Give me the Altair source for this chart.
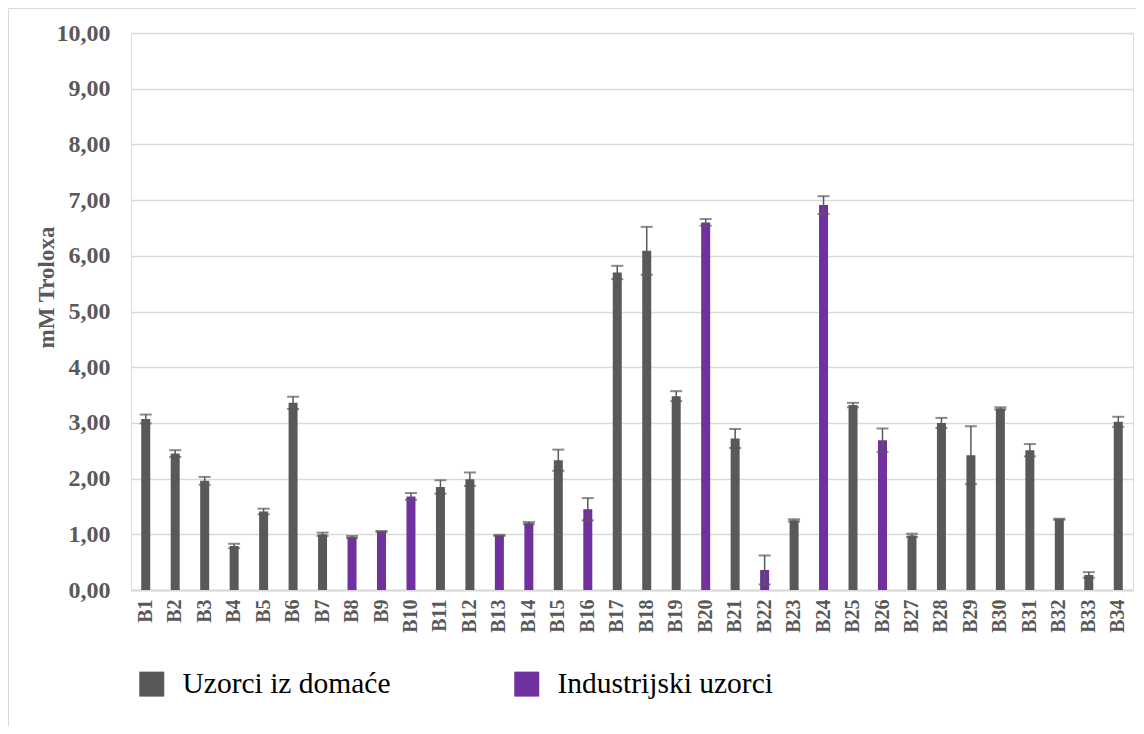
import altair as alt
import pandas as pd

samples = ["B1", "B2", "B3", "B4", "B5", "B6", "B7", "B8", "B9", "B10",
           "B11", "B12", "B13", "B14", "B15", "B16", "B17", "B18", "B19", "B20",
           "B21", "B22", "B23", "B24", "B25", "B26", "B27", "B28", "B29", "B30",
           "B31", "B32", "B33", "B34"]
means = [3.07, 2.45, 1.96, 0.79, 1.41, 3.36, 1.00, 0.95, 1.05, 1.68,
         1.85, 1.99, 0.98, 1.20, 2.33, 1.45, 5.70, 6.09, 3.48, 6.60,
         2.72, 0.36, 1.25, 6.91, 3.32, 2.69, 0.98, 3.00, 2.42, 3.26,
         2.51, 1.27, 0.27, 3.02]
sds = [0.08, 0.06, 0.07, 0.04, 0.05, 0.11, 0.03, 0.02, 0.01, 0.06,
       0.12, 0.12, 0.01, 0.02, 0.19, 0.20, 0.12, 0.43, 0.09, 0.06,
       0.17, 0.26, 0.02, 0.16, 0.04, 0.21, 0.03, 0.09, 0.52, 0.02,
       0.11, 0.01, 0.05, 0.09]
industrial = ["B8", "B9", "B10", "B13", "B14", "B16", "B20", "B22", "B24", "B26"]
groups = ["Uzorci iz domaće", "Industrijski uzorci"]
colors = ["#595959", "#7030A0"]
y_ticks = [0, 1, 2, 3, 4, 5, 6, 7, 8, 9, 10]

df = pd.DataFrame({"sample": samples, "mean": means, "sd": sds})
df["group"] = [groups[1] if s in industrial else groups[0] for s in samples]
df["lo"] = df["mean"] - df["sd"]
df["hi"] = df["mean"] + df["sd"]

FONT = "'Liberation Serif', 'Times New Roman', serif"

x = alt.X("sample:N", sort=samples, title=None,
          scale=alt.Scale(paddingInner=0.0, paddingOuter=0.0),
          axis=alt.Axis(labelAngle=-90, labelFont=FONT, labelFontSize=20,
                        labelFontWeight="bold", labelColor="#595959",
                        labelPadding=9, ticks=False, tickSize=0,
                        domainColor="#d9d9d9", domainWidth=2))

y = alt.Y("mean:Q", title="mM Troloxa",
          scale=alt.Scale(domain=[0, 10], nice=False),
          axis=alt.Axis(values=y_ticks, labelOverlap=False,
                        labelExpr="replace(format(datum.value, '.2f'), '.', ',')",
                        labelFont=FONT, labelFontSize=24, labelFontWeight="bold",
                        labelColor="#595959", labelPadding=21, ticks=False, tickSize=0,
                        domain=False, grid=True, gridColor="#d9d9d9", gridWidth=1.5,
                        titleFont=FONT, titleFontSize=23, titleFontWeight="bold",
                        titleColor="#595959", titleAngle=-90, titleX=-85, titleY=254,
                        titleAlign="center", titleBaseline="middle"))

base = alt.Chart(df)

bars = base.mark_bar(size=9).encode(
    x=x, y=y,
    color=alt.Color("group:N", scale=alt.Scale(domain=groups, range=colors),
                    legend=alt.Legend(title=None, orient="none", legendX=6, legendY=636,
                                      direction="horizontal", columns=2,
                                      symbolType="square", symbolSize=625,
                                      symbolStrokeWidth=0, labelFont=FONT,
                                      labelFontSize=29.5, labelColor="#000000",
                                      labelOffset=16, columnPadding=121,
                                      labelLimit=0)),
)

xs = alt.X("sample:N", sort=samples)
rules = base.mark_rule(color="#595959", strokeWidth=1.5).encode(x=xs, y="lo:Q", y2="hi:Q")
cap_hi = base.mark_tick(color="#595959", size=12, thickness=2, orient="horizontal").encode(
    x=xs, y="hi:Q")
cap_lo = base.mark_tick(color="#595959", size=12, thickness=2, orient="horizontal").encode(
    x=xs, y="lo:Q")

border = alt.Chart(pd.DataFrame({"a": [0]})).mark_rect(
    fillOpacity=0, stroke="#d9d9d9", strokeWidth=1).encode(
    x=alt.value(-122.5), x2=alt.value(1030), y=alt.value(-24.5), y2=alt.value(800))

chart = alt.layer(border, bars, rules, cap_hi, cap_lo).properties(
    width=1002, height=557,
    autosize=alt.AutoSizeParams(type="none"),
    padding={"left": 123, "top": 25, "right": 3, "bottom": 136},
).configure_view(stroke=None).configure(background="white")

chart.save("out.html", embed_options={"renderer": "svg", "actions": False})
